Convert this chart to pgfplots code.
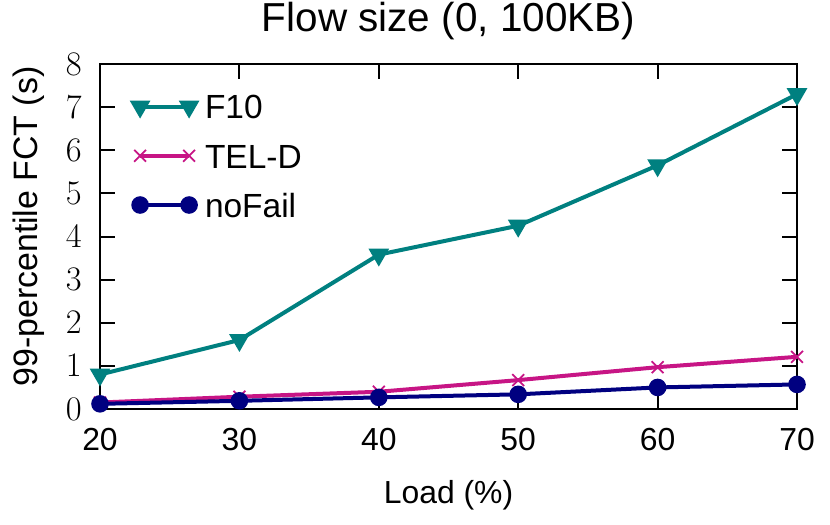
\documentclass[border=0pt]{standalone}
\usepackage{pgfplots}
\pgfplotsset{compat=1.18}
\usepackage{fontspec}
\setmainfont{Liberation Sans}
\definecolor{cF}{RGB}{0,128,128}
\definecolor{cT}{RGB}{199,21,133}
\definecolor{cN}{RGB}{0,0,128}
\begin{document}
\begin{tikzpicture}
\begin{axis}[
  name=ax,
  scale only axis, width=348.5bp, height=172.5bp,
  xmin=20, xmax=70, ymin=0, ymax=8,
  xtick={20,30,40,50,60,70}, ytick={0,1,2,3,4,5,6,7,8},
  tick align=inside, major tick length=7.5bp,
  every tick/.style={black, line width=1bp},
  axis line style={line width=1.1bp},
  tick label style={font=\fontsize{16}{19}\selectfont},
  x tick label style={/pgf/number format/assume math mode=true, anchor=base, yshift=-20.5bp},
  y tick label style={anchor=east, inner sep=0pt, xshift=-9bp},
  xlabel style={font=\fontsize{16}{19}\selectfont, at={(axis description cs:0.5,0)}, anchor=base, yshift=-47bp},
  ylabel style={font=\fontsize{17}{20}\selectfont, at={(axis description cs:-0.10187,0.529)}, anchor=center},
  title style={font=\fontsize{20.3}{24}\selectfont, at={(axis description cs:0.5,1)}, anchor=base, yshift=10.5bp},
  title={Flow size (0, 100KB)},
  xlabel={Load (\%)}, ylabel={99-percentile FCT (s)},
  legend style={draw=none, fill=none, inner sep=0pt, outer sep=0pt,
    at={(axis description cs:0,1)}, anchor=north west, xshift=16.6bp, yshift=-15.15bp,
    font=\fontsize{16.8}{20}\selectfont, row sep=12.3bp, column sep=4.5bp,
    nodes={inner sep=0pt, text height=12.3bp, text depth=0pt}, cells={anchor=west}},
  legend image code/.code={\draw[mark repeat=2, mark phase=1, #1] plot coordinates {(0bp,0bp) (12.25bp,0bp) (24.5bp,0bp)};},
  every axis plot/.append style={line width=2bp},
]
\addplot[cF, mark=triangle*, mark options={rotate=180, scale=2.0, solid}] coordinates {
 (20,0.80) (30,1.60) (40,3.58) (50,4.25) (60,5.65) (70,7.30)};
\addlegendentry{F10}
\addplot[cT, mark=x, mark options={scale=2.1, line width=0.9bp}] coordinates {
 (20,0.15) (30,0.285) (40,0.40) (50,0.67) (60,0.97) (70,1.21)};
\addlegendentry{TEL-D}
\addplot[cN, mark=*, mark options={scale=1.7}] coordinates {
 (20,0.12) (30,0.19) (40,0.27) (50,0.34) (60,0.50) (70,0.57)};
\addlegendentry{noFail}
\end{axis}
\pgfresetboundingbox
\path[use as bounding box] ([shift={(-50bp,-57.5bp)}]ax.south west) rectangle ([shift={(16.5bp,32bp)}]ax.north east);
\end{tikzpicture}
\end{document}
